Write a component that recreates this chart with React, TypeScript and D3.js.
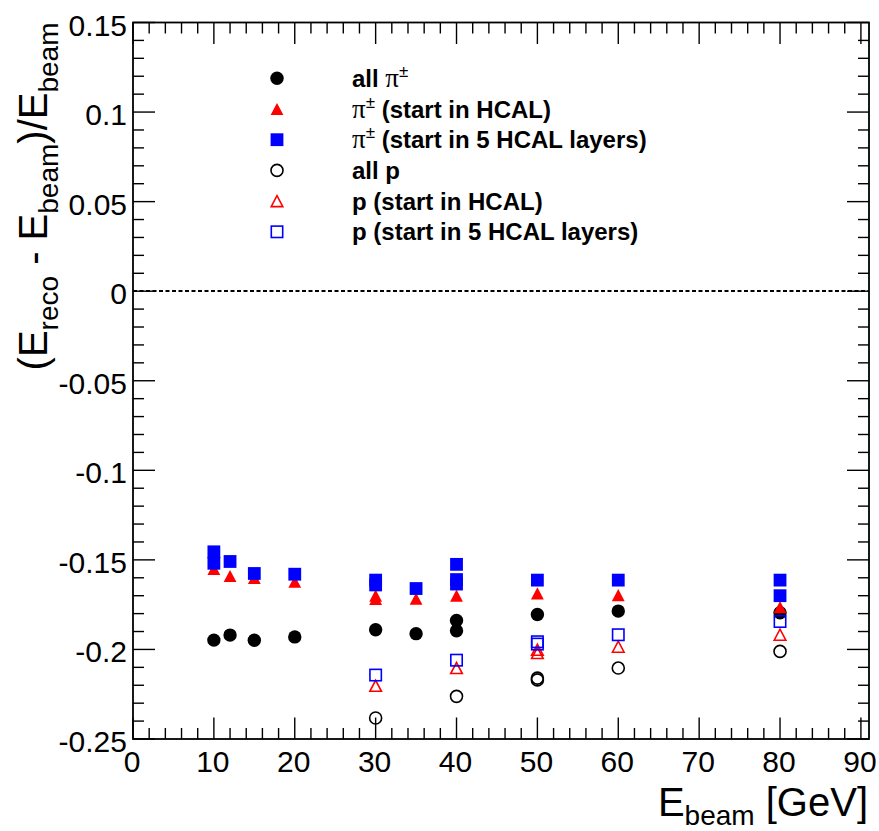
import React from "react";
import * as d3 from "d3";

const W = 879;
const H = 831;

// all pi+-
const piAllX = [10, 12, 15, 20, 30, 35, 40, 40, 50, 60, 80];
const piAllY = [-0.1948, -0.192, -0.1949, -0.193, -0.189, -0.1912, -0.1838, -0.1896, -0.1805, -0.1786, -0.1795];
// pi+- (start in HCAL)
const piHcalX = [10, 12, 15, 20, 30, 30, 35, 40, 50, 60, 80];
const piHcalY = [-0.155, -0.159, -0.16, -0.1622, -0.17, -0.1718, -0.1717, -0.17, -0.1687, -0.1697, -0.1764];
// pi+- (start in 5 HCAL layers)
const pi5X = [10, 10, 12, 15, 20, 30, 30, 35, 40, 40, 40, 50, 60, 80, 80];
const pi5Y = [-0.1455, -0.1519, -0.1509, -0.1576, -0.158, -0.1613, -0.164, -0.166, -0.1525, -0.161, -0.1635, -0.1613, -0.1613, -0.1613, -0.17];
// all p
const pAllX = [30, 40, 50, 50, 60, 80];
const pAllY = [-0.2383, -0.2262, -0.216, -0.217, -0.2104, -0.2011];
// p (start in HCAL)
const pHcalX = [30, 40, 50, 50, 60, 80];
const pHcalY = [-0.2203, -0.2104, -0.2002, -0.202, -0.1985, -0.1918];
// p (start in 5 HCAL layers)
const p5X = [30, 40, 50, 50, 60, 80];
const p5Y = [-0.2143, -0.206, -0.1957, -0.197, -0.1918, -0.1844];

const xMajorTicks = [0, 10, 20, 30, 40, 50, 60, 70, 80, 90];
const yMajorTicks = [0.15, 0.1, 0.05, 0, -0.05, -0.1, -0.15, -0.2, -0.25];
const yTickLabels = ["0.15", "0.1", "0.05", "0", "-0.05", "-0.1", "-0.15", "-0.2", "-0.25"];

type Shape = "circle" | "triangle" | "square";
const series: { x: number[]; y: number[]; shape: Shape; color: string; filled: boolean; label: string[] }[] = [
  { x: piAllX, y: piAllY, shape: "circle", color: "#000000", filled: true, label: ["all ", "π", "±", ""] },
  { x: piHcalX, y: piHcalY, shape: "triangle", color: "#ff0000", filled: true, label: ["", "π", "±", " (start in HCAL)"] },
  { x: pi5X, y: pi5Y, shape: "square", color: "#0000ff", filled: true, label: ["", "π", "±", " (start in 5 HCAL layers)"] },
  { x: pAllX, y: pAllY, shape: "circle", color: "#000000", filled: false, label: ["all p", "", "", ""] },
  { x: pHcalX, y: pHcalY, shape: "triangle", color: "#ff0000", filled: false, label: ["p (start in HCAL)", "", "", ""] },
  { x: p5X, y: p5Y, shape: "square", color: "#0000ff", filled: false, label: ["p (start in 5 HCAL layers)", "", "", ""] },
];

const L = 133, R = 869, T = 22.5, B = 739;
const x = d3.scaleLinear().domain([0, 91]).range([L, R]);
const y = d3.scaleLinear().domain([-0.25, 0.15]).range([B, T]);

const FONT = "'Liberation Sans', Arial, Helvetica, sans-serif";

function Marker({ cx, cy, shape, color, filled }: { cx: number; cy: number; shape: Shape; color: string; filled: boolean }) {
  const fill = filled ? color : "none";
  const sw = filled ? 0 : 1.6;
  if (shape === "circle") {
    const r = filled ? 6.7 : 6.0;
    return <circle cx={cx} cy={cy} r={r} fill={fill} stroke={color} strokeWidth={sw} />;
  }
  if (shape === "square") {
    const s = filled ? 12.8 : 11.4;
    return <rect x={cx - s / 2} y={cy - s / 2} width={s} height={s} fill={fill} stroke={color} strokeWidth={sw} />;
  }
  const w = filled ? 12.8 : 11.6;
  const h = filled ? 12.2 : 11;
  const pts = `${cx - w / 2},${cy + h / 2} ${cx + w / 2},${cy + h / 2} ${cx},${cy - h / 2}`;
  return <polygon points={pts} fill={fill} stroke={color} strokeWidth={sw} strokeLinejoin="miter" />;
}

export default function App() {
  const xMinor = d3.range(0, 91.001, 2).filter((v) => v % 10 !== 0);
  const yMinor = d3.range(-25, 15.001, 1).map((v) => v / 100).filter((v) => Math.abs(Math.round(v * 100) % 5) !== 0);
  const majX = 21.5, minX = 11;
  const majY = 22, minY = 11;

  const legX = 277, legTextX = 352, legY0 = 78.3, legDY = 30.7;
  const y0 = Math.round(y(0));

  return (
    <svg width={W} height={H} style={{ position: "absolute", left: 0, top: 0, background: "#fff" }} fontFamily={FONT}>
      <rect x={0} y={0} width={W} height={H} fill="#fff" />
      {/* zero line */}
      <line x1={L} x2={R} y1={y0} y2={y0} stroke="#000" strokeWidth={2} strokeDasharray="4,2.5" />
      {/* ticks */}
      <g stroke="#000" strokeWidth={1.4}>
        {xMajorTicks.map((v) => (
          <g key={"xM" + v}>
            <line x1={x(v)} x2={x(v)} y1={B} y2={B - majX} />
            <line x1={x(v)} x2={x(v)} y1={T} y2={T + majX} />
          </g>
        ))}
        {xMinor.map((v) => (
          <g key={"xm" + v}>
            <line x1={x(v)} x2={x(v)} y1={B} y2={B - minX} />
            <line x1={x(v)} x2={x(v)} y1={T} y2={T + minX} />
          </g>
        ))}
        {yMajorTicks.map((v) => (
          <g key={"yM" + v}>
            <line x1={L} x2={L + majY} y1={y(v)} y2={y(v)} />
            <line x1={R} x2={R - majY} y1={y(v)} y2={y(v)} />
          </g>
        ))}
        {yMinor.map((v) => (
          <g key={"ym" + v}>
            <line x1={L} x2={L + minY} y1={y(v)} y2={y(v)} />
            <line x1={R} x2={R - minY} y1={y(v)} y2={y(v)} />
          </g>
        ))}
      </g>
      {/* frame */}
      <rect x={L} y={T} width={R - L} height={B - T} fill="none" stroke="#000" strokeWidth={1.8} />
      {/* tick labels */}
      <g fontSize={30} fill="#000">
        {xMajorTicks.map((v) => (
          <text key={"xl" + v} x={x(v) - 1} y={772} textAnchor="middle">{v}</text>
        ))}
        {yMajorTicks.map((v, i) => (
          <text key={"yl" + v} x={127} y={y(v) + 13} textAnchor="end">{yTickLabels[i]}</text>
        ))}
      </g>
      {/* axis titles */}
      <text x={868} y={816} textAnchor="end" fontSize={40} fill="#000">
        E<tspan fontSize={28} dy={9}>beam</tspan>
        <tspan dy={-9}> [GeV]</tspan>
      </text>
      <text transform={`translate(47, ${T}) rotate(-90)`} x={0} y={0} textAnchor="end" fontSize={40} fill="#000">
        (E<tspan fontSize={28} dy={11}>reco</tspan>
        <tspan dy={-11}> - E</tspan>
        <tspan fontSize={28} dy={11}>beam</tspan>
        <tspan dy={-11}>)/E</tspan>
        <tspan fontSize={28} dy={11}>beam</tspan>
      </text>
      {/* data */}
      {series.map((s, si) => (
        <g key={"s" + si}>
          {s.x.map((xv, i) => (
            <Marker key={i} cx={x(xv)} cy={y(s.y[i])} shape={s.shape} color={s.color} filled={s.filled} />
          ))}
        </g>
      ))}
      {/* legend */}
      {series.map((s, si) => {
        const cy = legY0 + si * legDY;
        const [pre, greek, sup, post] = s.label;
        return (
          <g key={"l" + si}>
            <Marker cx={legX} cy={cy} shape={s.shape} color={s.color} filled={s.filled} />
            <text x={legTextX} y={cy + 8.5} fontSize={24} fontWeight="bold" fill="#000">
              {pre}
              {greek ? <tspan fontWeight="normal" fontSize={27} fontFamily="'Liberation Serif', 'Times New Roman', serif">{greek}</tspan> : null}
              {sup ? <tspan fontWeight="normal" fontSize={17} dy={-10}>{sup}</tspan> : null}
              {post ? <tspan dy={sup ? 10 : 0}>{post}</tspan> : null}
            </text>
          </g>
        );
      })}
    </svg>
  );
}
